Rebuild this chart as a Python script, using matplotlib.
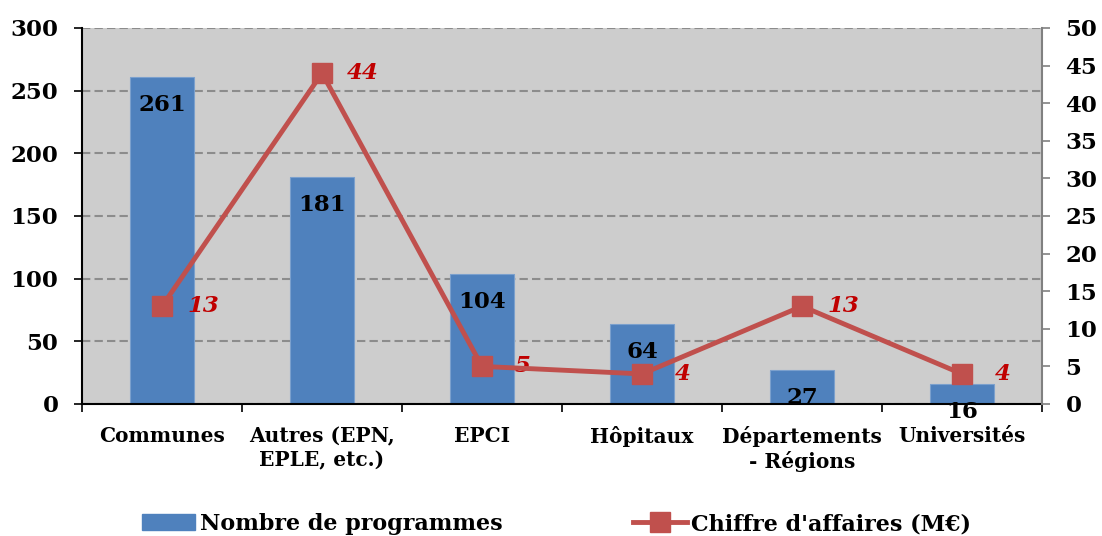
import numpy as np
import matplotlib.pyplot as plt
from matplotlib.patches import Patch
from matplotlib.lines import Line2D

categories = ["Communes", "Autres (EPN,\nEPLE, etc.)", "EPCI", "Hôpitaux",
              "Départements\n- Régions", "Universités"]
programmes = [261, 181, 104, 64, 27, 16]
chiffre = [13, 44, 5, 4, 13, 4]

blue = "#4F81BD"
red = "#C0504D"
lab_red = "#C00000"
plt.rcParams['font.family'] = ['DejaVu Serif']
plt.rcParams['font.weight'] = 'bold'
fs = 16.5

fig = plt.figure(figsize=(11.02, 5.36), dpi=100)
ax = fig.add_axes([82/1102, 1-404/536, 960/1102, 376/536])
ax.set_facecolor("#CDCDCD")
x = np.arange(len(categories))

ax.bar(x, programmes, width=0.4, color=blue, edgecolor="#7BA0CD", linewidth=0.8, zorder=2)
ax.set_xlim(-0.5, len(categories)-0.5)
ax.set_ylim(0, 300)
ax.set_yticks(np.arange(0, 301, 50))
ax.yaxis.grid(True, color="#8C8C8C", linestyle=(0, (4, 2)), linewidth=1.5, zorder=0)
ax.set_axisbelow(True)

for xi, v in zip(x, programmes):
    ax.annotate(str(v), (xi, v), xytext=(0, -28), textcoords='offset pixels',
                ha='center', va='center', fontsize=fs, fontweight='bold', color='black', zorder=5)

ax.set_xticks(np.arange(-0.5, len(categories), 1))
ax.set_xticklabels([])
ax.set_xticks(x, minor=True)
ax.set_xticklabels(categories, minor=True, fontsize=14.5, fontweight='bold', linespacing=1.25)
ax.tick_params(axis='x', which='major', length=6, width=1.2, color='black')
ax.tick_params(axis='x', which='minor', length=0, pad=16)
ax.tick_params(axis='y', length=6, width=1.2, labelsize=fs, pad=11)
ax.spines['top'].set_visible(False)
ax.spines['left'].set_linewidth(1.5)
ax.spines['bottom'].set_linewidth(1.5)
ax.spines['right'].set_visible(False)

ax2 = ax.twinx()
ax2.set_ylim(0, 50)
ax2.set_yticks(np.arange(0, 51, 5))
ax2.plot(x, chiffre, color=red, linewidth=3.5, marker='s', markersize=14,
         markerfacecolor=red, markeredgecolor=red, zorder=4)
for xi, v in zip(x, chiffre):
    ax2.annotate(str(v), (xi, v), xytext=(41, 0), textcoords='offset pixels',
                 ha='center', va='center', fontsize=fs, fontweight='bold',
                 fontstyle='italic', color=lab_red)
ax2.tick_params(axis='y', length=6, width=1.2, color='#808080', labelsize=fs, pad=11)
for s in ['top', 'left', 'bottom']:
    ax2.spines[s].set_visible(False)
ax2.spines['right'].set_color('#808080')
ax2.spines['right'].set_linewidth(1.5)

handles = [Patch(facecolor=blue, edgecolor=blue),
           Line2D([0], [0], color=red, linewidth=3.5, marker='s', markersize=14)]
fig.legend(handles, ["Nombre de programmes", "Chiffre d'affaires (M€)"],
           loc='center', bbox_to_anchor=(0.505, 1-524/536), ncol=2, frameon=False,
           handlelength=2.4, handletextpad=0.2, columnspacing=5.9,
           prop={'weight': 'bold', 'size': 16})

fig.savefig("out.png", dpi=100)
